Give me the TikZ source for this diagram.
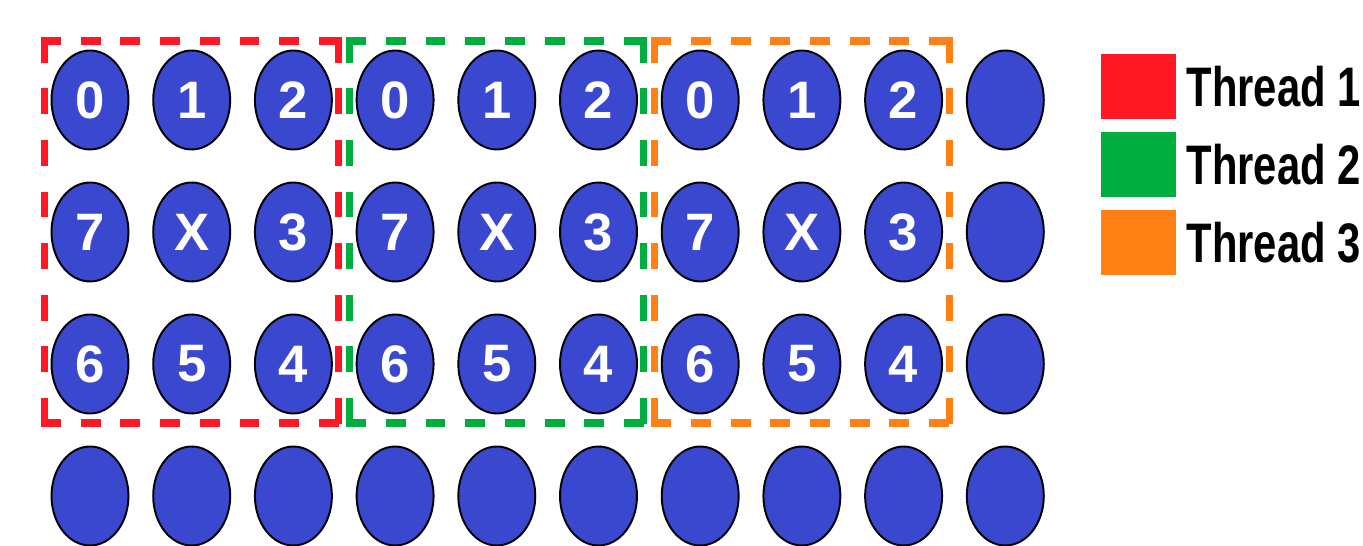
\documentclass[tikz,border=0pt]{standalone}
\usepackage{fontspec}
\setmainfont{Liberation Sans}
\usetikzlibrary{positioning,shapes.geometric,fit}
\definecolor{cellblue}{RGB}{58,71,207}
\definecolor{thrred}{RGB}{255,24,36}
\definecolor{thrgreen}{RGB}{0,174,64}
\definecolor{throrange}{RGB}{255,129,22}
\tikzset{
  cell/.style={ellipse, draw=black, line width=1.1pt, fill=cellblue,
    minimum width=1.54cm, minimum height=1.98cm, inner sep=0pt,
    text=white, font=\fontsize{30}{30}\selectfont\bfseries},
  threadarea/.style={inner xsep=0.12cm, inner ysep=0.17cm, outer sep=0pt},
  hside/.style={draw=#1, line width=4.8pt, shorten <=-2pt, shorten >=-2pt,
    dash pattern=on 11.34pt off 11.26pt},
  vside/.style={draw=#1, line width=4pt, shorten <=-2.4pt, shorten >=-2.4pt,
    dash pattern=on 14.74pt off 14.62pt},
  legendkey/.style={fill=#1, minimum width=1.5cm, minimum height=1.3cm, inner sep=0pt},
  legendtext/.style={font=\fontsize{31.7}{32}\selectfont\bfseries, inner sep=0pt, xscale=0.75}
}
\begin{document}
\begin{tikzpicture}[x=0.02cm, y=-0.02cm]
  \useasboundingbox (0,0) rectangle (1363,546);
  % Three 3x3 blocks of numbered cells
  \foreach \b in {0,1,2} {
    \foreach \lab [count=\i from 0] in {0,1,2,7,X,3,6,5,4} {
      \pgfmathtruncatemacro\c{3*\b+mod(\i,3)}
      \pgfmathtruncatemacro\r{div(\i,3)}
      \node[cell] (c-\c-\r) at ({90+101.7*\c}, {100+132*\r}) {\lab};
    }
  }
  % Empty cells: last column and bottom row
  \foreach \r in {0,1,2}
    \node[cell] (c-9-\r) at ({90+101.7*9}, {100+132*\r}) {};
  \foreach \c in {0,...,9}
    \node[cell] (c-\c-3) at ({90+101.7*\c}, 496) {};
  % Thread blocks (dashed frames)
  \foreach \t/\first/\last/\col in {1/0/2/thrred, 2/3/5/thrgreen, 3/6/8/throrange} {
    \node[threadarea, fit=(c-\first-0)(c-\last-2)] (box\t) {};
    \draw[hside=\col] (box\t.north west) -- (box\t.north east);
    \draw[hside=\col] (box\t.south west) -- (box\t.south east);
    \draw[vside=\col] (box\t.north west) -- (box\t.south west);
    \draw[vside=\col] (box\t.north east) -- (box\t.south east);
  }
  % Legend
  \node[legendkey=thrred] (key1) at (1138.5, 86.5) {};
  \node[legendkey=thrgreen, below=0.24cm of key1] (key2) {};
  \node[legendkey=throrange, below=0.25cm of key2] (key3) {};
  \node[legendtext, right=0.2cm of key1] (lab1) {Thread 1};
  \node[legendtext, right=0.2cm of key2] (lab2) {Thread 2};
  \node[legendtext, right=0.2cm of key3] (lab3) {Thread 3};
\end{tikzpicture}
\end{document}
